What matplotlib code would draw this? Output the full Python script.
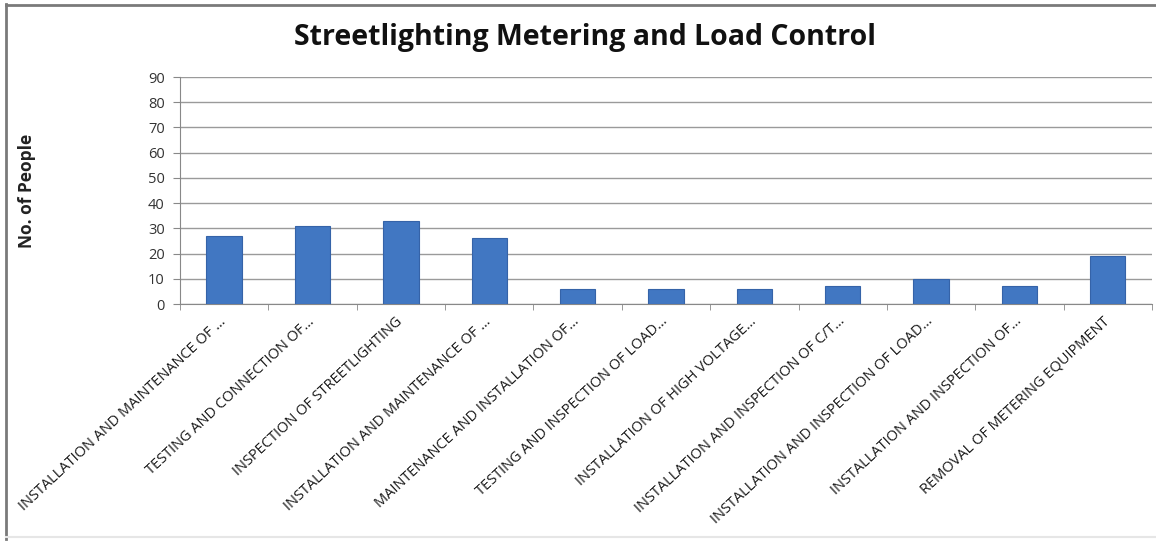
import matplotlib
matplotlib.use("Agg")
import matplotlib.pyplot as plt
import numpy as np

categories = [
    "INSTALLATION AND MAINTENANCE OF …",
    "TESTING AND CONNECTION OF…",
    "INSPECTION OF STREETLIGHTING",
    "INSTALLATION AND MAINTENANCE OF …",
    "MAINTENANCE AND INSTALLATION OF…",
    "TESTING AND INSPECTION OF LOAD…",
    "INSTALLATION OF HIGH VOLTAGE…",
    "INSTALLATION AND INSPECTION OF C/T…",
    "INSTALLATION AND INSPECTION OF LOAD…",
    "INSTALLATION AND INSPECTION OF…",
    "REMOVAL OF METERING EQUIPMENT",
]
people = [27, 31, 33, 26, 6, 6, 6, 7, 10, 7, 19]
y_ticks = [0, 10, 20, 30, 40, 50, 60, 70, 80, 90]

title = "Streetlighting Metering and Load Control"
y_label = "No. of People"

plt.rcParams["font.family"] = ["Open Sans", "DejaVu Sans"]

fig = plt.figure(figsize=(11.56, 5.42), dpi=100)
fig.patch.set_facecolor("white")
ax = fig.add_axes([0.1557, 0.4391, 0.8408, 0.4188])

x = np.arange(len(categories))
ax.bar(x, people, width=0.4, color="#4177c2", edgecolor="#3563a8",
       linewidth=0.8, zorder=3)

ax.set_xlim(-0.5, len(categories) - 0.5)
ax.set_ylim(0, 90)
ax.set_yticks(y_ticks)
ax.set_yticklabels([str(v) for v in y_ticks], fontsize=10.5, color="#333333")
ax.yaxis.grid(True, color="#9a9a9a", linewidth=1.0, zorder=0)
ax.set_axisbelow(True)

ax.set_xticks(x)
ax.set_xticklabels(categories, rotation=43, ha="right", va="center",
                   rotation_mode="anchor", fontsize=10.5, color="#1a1a1a")
ax.tick_params(axis="x", which="major", length=0, pad=11)
ax.set_xticks(np.arange(len(categories) + 1) - 0.5, minor=True)
ax.tick_params(axis="x", which="minor", length=4, color="#888888", direction="out")
ax.tick_params(axis="y", length=5, color="#888888", pad=6)

for side in ("top", "right"):
    ax.spines[side].set_visible(False)
ax.spines["left"].set_color("#888888")
ax.spines["bottom"].set_color("#888888")

ax.set_ylabel(y_label, fontsize=12.5, fontweight="bold", color="#222222",
              labelpad=0)
ax.yaxis.set_label_coords(-0.148, 0.50)

fig.text(0.506, 0.93, title, ha="center", va="center", fontsize=20.5,
         fontweight="bold", color="#111111")

# chart-area frame on the left, top and bottom
fig.add_artist(plt.Line2D([0.0055, 0.0055], [0.005, 0.992], transform=fig.transFigure,
                          color="#7a7a7a", linewidth=2))
fig.add_artist(plt.Line2D([0.0055, 1.0], [0.991, 0.991], transform=fig.transFigure,
                          color="#7a7a7a", linewidth=2))
fig.add_artist(plt.Line2D([0.0055, 1.0], [0.009, 0.009], transform=fig.transFigure,
                          color="#e6e6e6", linewidth=1.5))

fig.savefig("out.png", dpi=100, facecolor="white")
